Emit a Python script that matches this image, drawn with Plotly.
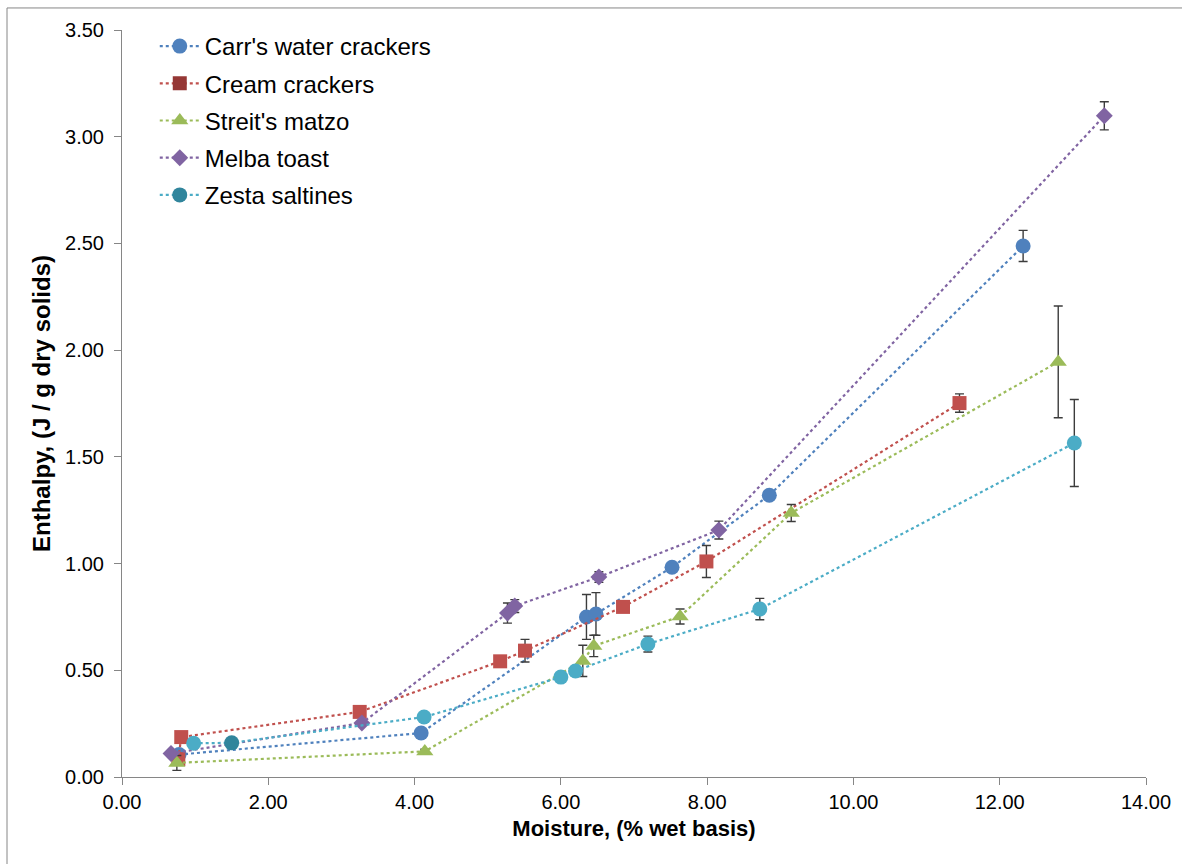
import plotly.graph_objects as go

# ---- data ----
carr_x = [0.78, 4.09, 6.35, 6.48, 7.52, 8.85, 12.32]
carr_y = [0.105, 0.206, 0.750, 0.764, 0.983, 1.320, 2.488]
carr_err = [0.0, 0.0, 0.105, 0.100, 0.0, 0.0, 0.073]

cream_x = [0.77, 0.81, 3.25, 5.17, 5.51, 6.85, 7.99, 11.45]
cream_y = [0.084, 0.187, 0.305, 0.542, 0.592, 0.797, 1.010, 1.752]
cream_err = [0.0, 0.0, 0.02, 0.0, 0.053, 0.0, 0.075, 0.043]

streit_x = [0.75, 4.14, 6.30, 6.45, 7.63, 9.15, 12.80]
streit_y = [0.066, 0.120, 0.544, 0.614, 0.752, 1.237, 1.945]
streit_err = [0.035, 0.01, 0.073, 0.05, 0.035, 0.04, 0.262]

melba_x = [0.67, 3.28, 5.27, 5.37, 6.52, 8.16, 13.43]
melba_y = [0.110, 0.253, 0.768, 0.801, 0.937, 1.157, 3.098]
melba_err = [0.0, 0.0, 0.047, 0.03, 0.025, 0.042, 0.066]

zesta_x = [0.98, 1.50, 4.13, 6.00, 6.20, 7.19, 8.72, 13.02]
zesta_y = [0.158, 0.160, 0.281, 0.468, 0.497, 0.623, 0.787, 1.565]
zesta_err = [0.0, 0.0, 0.0, 0.0, 0.01, 0.037, 0.05, 0.204]

names = ["Carr's water crackers", "Cream crackers", "Streit's matzo", "Melba toast", "Zesta saltines"]
x_ticks = [0, 2, 4, 6, 8, 10, 12, 14]
y_ticks = [0, 0.5, 1.0, 1.5, 2.0, 2.5, 3.0, 3.5]

# ---- styles ----
BLUE = "#4F81BD"
RED = "#C0504D"
GREEN = "#9BBB59"
PURPLE = "#8064A2"
CYAN = "#4BACC6"
TEAL = "#31859C"
DARKRED = "#953735"
ERR = "#3C3C3C"
FONT = "Liberation Sans, Arial, sans-serif"

series = [
    (names[0], carr_x, carr_y, carr_err, BLUE, BLUE, "circle", 15, BLUE),
    (names[1], cream_x, cream_y, cream_err, RED, RED, "square", 14, DARKRED),
    (names[2], streit_x, streit_y, streit_err, GREEN, GREEN, "triangle-up", 15, GREEN),
    (names[3], melba_x, melba_y, melba_err, PURPLE, PURPLE, "diamond", 13, PURPLE),
    (names[4], zesta_x, zesta_y, zesta_err, CYAN,
     [CYAN, TEAL] + [CYAN] * (len(zesta_x) - 2), "circle", 15, TEAL),
]

fig = go.Figure()
for i, (name, xs, ys, es, lc, mc, sym, sz, legc) in enumerate(series):
    fig.add_trace(go.Scatter(
        x=xs, y=ys, mode="lines+markers", name=name, showlegend=False,
        line=dict(color=lc, width=2.2, dash="dot"),
        marker=dict(color=mc, symbol=sym, size=sz, line=dict(width=0)),
        error_y=dict(type="data", array=es, visible=True, color=ERR, thickness=1.4, width=4.5),
        cliponaxis=False, legendgroup=name,
    ))
for i, (name, xs, ys, es, lc, mc, sym, sz, legc) in enumerate(series):
    fig.add_trace(go.Scatter(
        x=[None], y=[None], mode="lines+markers", name=name, showlegend=True,
        line=dict(color=lc, width=2.2, dash="dot"),
        marker=dict(color=legc, symbol=sym, size=sz, line=dict(width=0)),
        legendgroup=name,
    ))

axis_common = dict(
    showgrid=False, zeroline=False, showline=True, linecolor="#868686", linewidth=1,
    ticks="outside", ticklen=7, tickcolor="#868686", tickwidth=1,
    tickfont=dict(family=FONT, size=20, color="#000000"),
    tickformat=".2f",
)

fig.update_layout(
    width=1182, height=864,
    margin=dict(l=122, r=36, t=30, b=87),
    paper_bgcolor="white", plot_bgcolor="white",
    font=dict(family=FONT, color="#000000"),
    xaxis=dict(range=[0, 14], tickvals=x_ticks, **axis_common, ticklabelstandoff=0,
               title=dict(text="<b>Moisture, (% wet basis)</b>",
                          font=dict(family=FONT, size=22), standoff=8)),
    yaxis=dict(range=[0, 3.5], tickvals=y_ticks, **axis_common, ticklabelstandoff=6,
               title=dict(text="<b>Enthalpy, (J / g dry solids)</b>",
                          font=dict(family=FONT, size=24), standoff=7)),
    legend=dict(x=0.032, y=1.008, xanchor="left", yanchor="top",
                font=dict(family=FONT, size=24, color="#000000"),
                bgcolor="rgba(255,255,255,0)", borderwidth=0,
                tracegroupgap=3, itemwidth=40),
    shapes=[dict(type="rect", xref="paper", yref="paper",
                 x0=-0.1123, x1=1.06, y0=-0.15, y1=1.0295,
                 line=dict(color="#868686", width=1), fillcolor="rgba(0,0,0,0)", layer="below")],
)

fig.write_html("out.html")
